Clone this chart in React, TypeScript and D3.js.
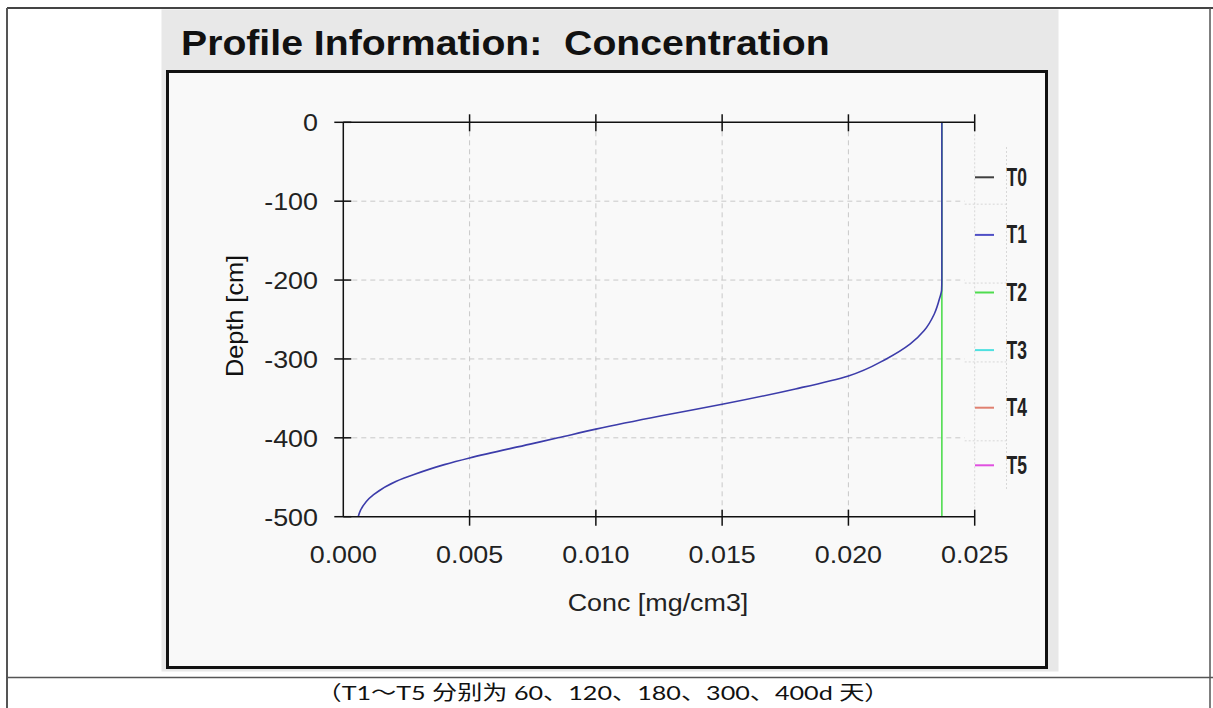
import React from "react";
import * as d3 from "d3";

const xTicks = [0, 0.005, 0.01, 0.015, 0.02, 0.025];
const yTicks = [0, -100, -200, -300, -400, -500];
const xTickLabels = ["0.000", "0.005", "0.010", "0.015", "0.020", "0.025"];
const yTickLabels = ["0", "-100", "-200", "-300", "-400", "-500"];

const legendNames = ["T0", "T1", "T2", "T3", "T4", "T5"];
const legendColors = ["#404040", "#4f4fc6", "#4fdc4f", "#4fe0e0", "#e08070", "#e050e0"];

// T1 profile (depth [cm], conc [mg/cm3])
const t1Depth = [0, -200, -213, -222, -243, -264, -281, -300, -321.5, -338, -357.5, -372, -389, -400, -408, -425.5, -434, -446.5, -455, -472, -492, -500];
const t1Conc = [0.0237, 0.0237, 0.02369, 0.02362, 0.0234, 0.023, 0.02245, 0.0215, 0.02, 0.0179, 0.015, 0.0126, 0.01, 0.0085, 0.0074, 0.005, 0.004, 0.0028, 0.0021, 0.0012, 0.00068, 0.00059];

// T2 profile
const t2Depth = [0, -500];
const t2Conc = [0.0237, 0.0237];

const title = "Profile Information:  Concentration";
const xLabel = "Conc [mg/cm3]";
const yLabel = "Depth [cm]";
const caption = "（T1～T5 分别为 60、120、180、300、400d 天）";

export default function App() {
  const x = d3.scaleLinear().domain([0, 0.025]).range([343.3, 974.7]);
  const y = d3.scaleLinear().domain([0, -500]).range([122.3, 516.7]);

  const line = d3
    .line<[number, number]>()
    .x((d) => x(d[0]))
    .y((d) => y(d[1]))
    .curve(d3.curveMonotoneY);

  const t1 = t1Depth.map((d, i) => [t1Conc[i], d] as [number, number]);
  const t2 = t2Depth.map((d, i) => [t2Conc[i], d] as [number, number]);

  const x0 = x(0), x1 = x(0.025), yTop = y(0), yBot = y(-500);
  const sans = "'Liberation Sans', Arial, sans-serif";
  const sx = 1.12;

  return (
    <svg width={1213} height={708} style={{ position: "absolute", left: 0, top: 0 }}>
      <rect x={0} y={0} width={1213} height={708} fill="#ffffff" />
      {/* outer table lines */}
      <line x1={7} y1={8} x2={1213} y2={8} stroke="#444" strokeWidth={2} />
      <line x1={7} y1={8} x2={7} y2={708} stroke="#555" strokeWidth={2} />
      <line x1={1210} y1={8} x2={1210} y2={708} stroke="#555" strokeWidth={1.5} />
      <line x1={7} y1={677.5} x2={1213} y2={677.5} stroke="#555" strokeWidth={1.5} />

      {/* grey panel */}
      <rect x={161.5} y={9.5} width={897} height={662} fill="#e8e8e8" />
      <text
        transform={`translate(181,55) scale(${sx},1)`}
        fontFamily={sans}
        fontWeight="bold"
        fontSize={35}
        fill="#111"
        style={{ whiteSpace: "pre" }}
        xmlSpace="preserve"
      >
        {title}
      </text>

      {/* plot box */}
      <rect x={167.5} y={71.5} width={879} height={596} fill="#f9f9f9" stroke="#111" strokeWidth={3} />

      {/* grid */}
      <g stroke="#c8c8c8" strokeWidth={1} strokeDasharray="5,4">
        {xTicks.slice(1, 5).map((t) => (
          <line key={"gx" + t} x1={x(t)} x2={x(t)} y1={yTop} y2={yBot} />
        ))}
        {yTicks.slice(1, 5).map((t) => (
          <line key={"gy" + t} x1={x0} x2={x1 - 10} y1={y(t)} y2={y(t)} />
        ))}
      </g>
      <g stroke="#d8d8d8" strokeWidth={1} strokeDasharray="2,2">
        <line x1={x1} x2={x1} y1={yTop} y2={yBot} />
        <line x1={1006.5} x2={1006.5} y1={147} y2={490} />
        {yTicks.slice(1, 5).map((t) => (
          <line key={"gd" + t} x1={x1 - 10} x2={1006.5} y1={y(t) + 3} y2={y(t) + 3} />
        ))}
      </g>

      {/* data */}
      <path d={line(t2) || ""} fill="none" stroke={legendColors[2]} strokeWidth={1.6} />
      <path d={line(t1) || ""} fill="none" stroke="#3c3caa" strokeWidth={1.6} />

      {/* axes */}
      <g stroke="#111" strokeWidth={1.5}>
        <line x1={x0} x2={x1} y1={yTop} y2={yTop} />
        <line x1={x0} x2={x1} y1={yBot} y2={yBot} />
        <line x1={x0} x2={x0} y1={yTop} y2={yBot} />
        {xTicks.slice(1).map((t) => (
          <g key={"xt" + t}>
            <line x1={x(t)} x2={x(t)} y1={yTop - 8} y2={yTop + 9} />
            <line x1={x(t)} x2={x(t)} y1={yBot - 7} y2={yBot + 9} />
          </g>
        ))}
        {yTicks.map((t) => (
          <line key={"yt" + t} x1={x0 - 9} x2={x0 + 8} y1={y(t)} y2={y(t)} />
        ))}
      </g>

      {/* tick labels */}
      <g fontFamily={sans} fontSize={24} fill="#222">
        {xTicks.map((t, i) => (
          <text key={"xl" + t} transform={`translate(${x(t)},563) scale(${sx},1)`} textAnchor="middle">
            {xTickLabels[i]}
          </text>
        ))}
        {yTicks.map((t, i) => (
          <text key={"yl" + t} transform={`translate(318,${y(t) + 9}) scale(${sx},1)`} textAnchor="end">
            {yTickLabels[i]}
          </text>
        ))}
      </g>

      {/* axis labels */}
      <text
        transform={`translate(658,611) scale(${sx},1)`}
        textAnchor="middle"
        fontFamily={sans}
        fontSize={24}
        fill="#222"
      >
        {xLabel}
      </text>
      <text
        transform={`translate(243,316) rotate(-90) scale(1.1,1)`}
        textAnchor="middle"
        fontFamily={sans}
        fontSize={23}
        fill="#111"
      >
        {yLabel}
      </text>

      {/* legend */}
      {legendNames.map((n, i) => {
        const ly = 177.3 + i * 57.6;
        return (
          <g key={n}>
            <line x1={975} x2={994} y1={ly} y2={ly} stroke={legendColors[i]} strokeWidth={2} />
            <text
              transform={`translate(1006.5,${ly + 8.5}) scale(0.7,1)`}
              fontFamily={sans}
              fontWeight="bold"
              fontSize={25}
              fill="#222"
            >
              {n}
            </text>
          </g>
        );
      })}

      {/* caption */}
      <text
        x={603}
        y={700}
        textAnchor="middle"
        fontFamily="Lato, 'Noto Sans CJK SC', sans-serif"
        fontSize={20}
        fill="#111"
        textLength={573}
        lengthAdjust="spacingAndGlyphs"
      >
        {caption}
      </text>
    </svg>
  );
}
